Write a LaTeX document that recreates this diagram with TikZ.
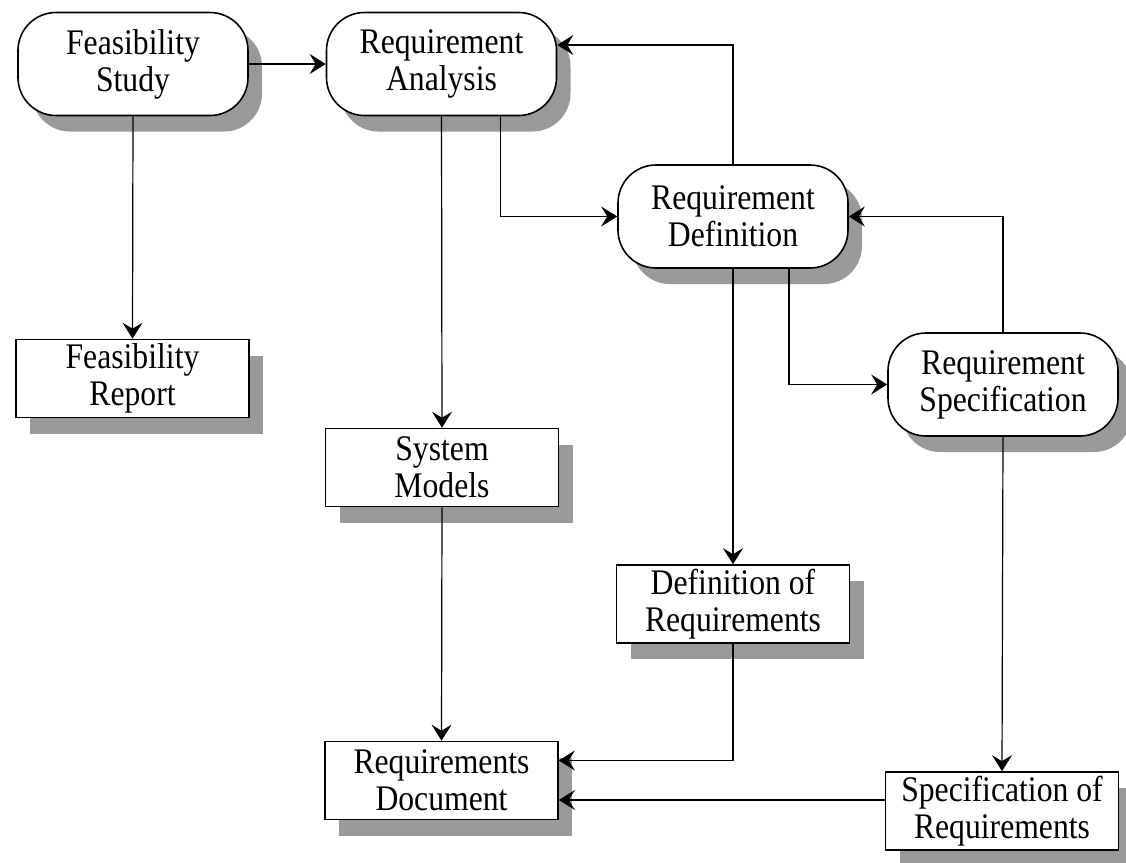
\documentclass[tikz,border=0pt]{standalone}
\usepackage{fontspec}
\setmainfont[FakeStretch=0.88]{Liberation Serif}
\usetikzlibrary{shadows,arrows.meta}
\definecolor{shadowgray}{gray}{0.6}
\tikzset{
  base/.style={draw=black, line width=0.8pt, fill=white, align=center, inner sep=0pt,
    font=\fontsize{18pt}{18.5pt}\selectfont,
    drop shadow={shadow xshift=7pt, shadow yshift=-8pt, fill=shadowgray, opacity=1}},
  process/.style={base, rounded corners=19pt, minimum width=115pt, minimum height=51.5pt},
  product/.style={base, minimum width=116.5pt, minimum height=39pt},
  flow/.style={line width=0.6pt, -{Stealth[length=8pt, width=10pt, inset=3pt]}}
}
\begin{document}
\begin{tikzpicture}[x=0.5pt, y=-0.5pt]
\useasboundingbox (0,0) rectangle (1126,863);

% process steps
\node[process] (FS) at (133,64) {Feasibility\\Study};
\node[process] (RA) at (441.5,64) {Requirement\\Analysis};
\node[process] (RD) at (733,216.5) {Requirement\\Definition};
\node[process] (RS) at (1003,384.5) {Requirement\\Specification};

% products
\node[product] (FR) at (132.5,378.5) {Feasibility\\Report};
\node[product] (SM) at (442,467.5) {System\\Models};
\node[product] (DoR) at (733,604) {Definition of\\Requirements};
\node[product] (RDoc) at (441.5,780.5) {Requirements\\Document};
\node[product] (SoR) at (1002,811) {Specification of\\Requirements};

% flows
\draw[flow] (FS.east) -- (RA.west);
\draw[flow] (RD.north) |- ([yshift=9.5pt]RA.east);
\draw[flow] ([xshift=29.5pt]RA.south) |- (RD.west);
\draw[flow] (RA.south) -- (SM.north);
\draw[flow] (FS.south) -- (FR.north);
\draw[flow] (SM.south) -- (RDoc.north);
\draw[flow] (RD.south) -- (DoR.north);
\draw[flow] ([xshift=28pt]RD.south) |- (RS.west);
\draw[flow] (RS.north) |- (RD.east);
\draw[flow] (RS.south) -- (SoR.north);
\draw[flow] (DoR.south) |- ([yshift=10pt]RDoc.east);
\draw[flow] ([yshift=-9.75pt]RDoc.east -| SoR.west) -- ([yshift=-9.75pt]RDoc.east);
\end{tikzpicture}
\end{document}
